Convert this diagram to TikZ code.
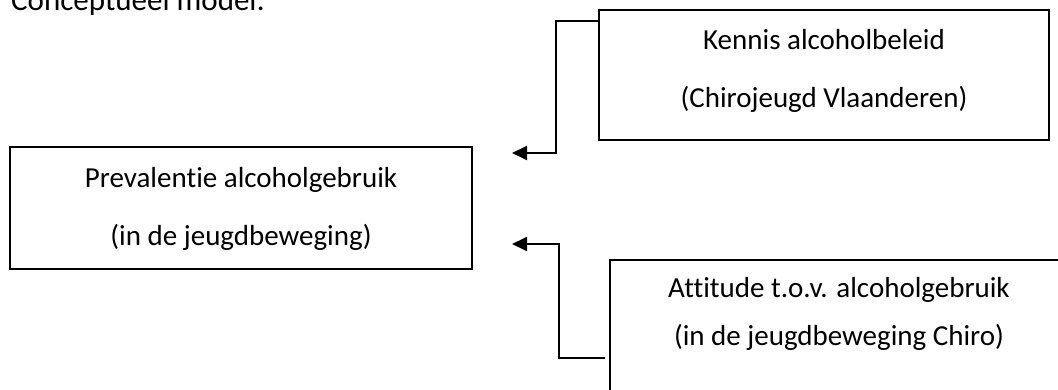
\documentclass[tikz,border=0pt]{standalone}
\usepackage{fontspec}
\setmainfont[Ligatures={NoCommon}]{Carlito}
\usetikzlibrary{arrows.meta}
\begin{document}
\begin{tikzpicture}[x=1pt,y=-1pt,
  box/.style={draw=black,line width=2pt,minimum width=#1,inner sep=0pt,outer sep=0pt},
  lbl/.style={anchor=base,inner sep=0pt,font=\fontsize{29}{35}\selectfont},
  conn/.style={draw=black,line width=2pt,-{Triangle[length=15pt,width=14pt]}}]
\clip (0,0) rectangle (1058,389);
\fill[white] (0,0) rectangle (1058,389);
\node[anchor=base west,inner sep=0pt,font=\fontsize{31}{37}\selectfont] (title) at (11,10) {Conceptueel model:};
% boxes
\node[box=450pt,minimum height=130pt] (kennis) at (824,75) {};
\node[box=462pt,minimum height=122pt] (prev) at (241,208) {};
\node[box=458pt,minimum height=150pt] (att) at (839,335) {};
% texts
\node[lbl] (k1) at (824,49) {Kennis alcoholbeleid};
\node[lbl] (k2) at (824,107) {(Chirojeugd Vlaanderen)};
\node[lbl] (p1) at (241,187) {Prevalentie alcoholgebruik};
\node[lbl] (p2) at (241,245) {(in de jeugdbeweging)};
\node[lbl] (a1) at (839,297) {Attitude t.o.v. alcoholgebruik};
\node[lbl] (a2) at (839,345) {(in de jeugdbeweging Chiro)};
% connector points
\coordinate (ks) at ([yshift=-11pt]kennis.north west);
\coordinate (ke) at ([xshift=40pt,yshift=-6pt]prev.north east);
\coordinate (as) at ([xshift=-5pt,yshift=-98pt]att.north west);
\coordinate (ae) at ([xshift=40pt,yshift=25pt]prev.south east);
\draw[conn] (ks) -| ([xshift=44pt]ke) -- (ke);
\draw[conn] (as) -| ([xshift=47pt]ae) -- (ae);
\end{tikzpicture}
\end{document}
